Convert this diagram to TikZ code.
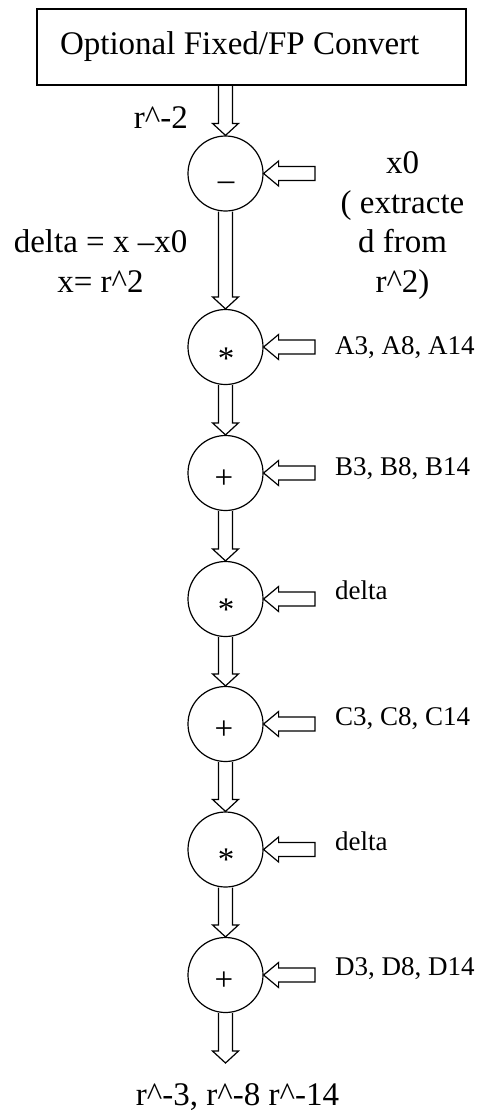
\documentclass[tikz,border=0pt]{standalone}
\usepackage{fontspec}
\setmainfont{Liberation Serif}
\usetikzlibrary{calc}
\begin{document}
\begin{tikzpicture}[x=1pt,y=-1pt,
  every node/.style={font=\fontsize{33}{39.5}\selectfont, inner sep=0pt},
  small/.style={font=\fontsize{27}{32}\selectfont},
  opnode/.style={draw, circle, minimum size=75pt, line width=1.2pt},
  convbox/.style={draw, line width=1.6pt, minimum width=429pt, minimum height=76pt,
    text width=383pt, align=flush left, inner xsep=23pt},
  varrow/.style={line width=1.2pt, line join=miter,
    to path={let \p1=(\tikztostart), \p2=(\tikztotarget) in
      (\x2-7pt,\y1) -- (\x2-7pt,\y2+12pt) -- (\x2-13pt,\y2+12pt) -- (\x2,\y2)
      -- (\x2+13pt,\y2+12pt) -- (\x2+7pt,\y2+12pt) -- (\x2+7pt,\y1)}},
  harrow/.style={line width=1.2pt, line join=miter,
    to path={let \p1=(\tikztostart), \p2=(\tikztotarget) in
      (\x1,\y2+7pt) -- (\x2+15pt,\y2+7pt) -- (\x2+15pt,\y2+12.5pt) -- (\x2,\y2)
      -- (\x2+15pt,\y2-12.5pt) -- (\x2+15pt,\y2-7pt) -- (\x1,\y2-7pt) -- cycle}}
]
\fill[white] (0,0) rectangle (482,1114);
\useasboundingbox (0,0) rectangle (482,1114);

% top box
\node[convbox] (box) at (251.5,47) {Optional Fixed/FP Convert};

% operator circles
\node[opnode] (c1) at (225.5,173.5) {};
\node[opnode] (c2) at (225.5,347) {};
\node[opnode] (c3) at (225.5,473) {};
\node[opnode] (c4) at (225.5,599) {};
\node[opnode] (c5) at (225.5,724) {};
\node[opnode] (c6) at (225.5,849.5) {};
\node[opnode] (c7) at (225.5,975) {};

% operator symbols
\node[anchor=base] (o1) at (226,190.5) {–};
\node[anchor=base] (o2) at (226,369) {*};
\node[anchor=base] (o3) at (224,488) {+};
\node[anchor=base] (o4) at (226,620) {*};
\node[anchor=base] (o5) at (224,739) {+};
\node[anchor=base] (o6) at (226,870.5) {*};
\node[anchor=base] (o7) at (224,990) {+};

% vertical flow arrows
\coordinate (out) at (225.5,1063);
\draw[varrow] (box.south) to (c1.north);
\draw[varrow] (c1.south) to (c2.north);
\draw[varrow] (c2.south) to (c3.north);
\draw[varrow] (c3.south) to (c4.north);
\draw[varrow] (c4.south) to (c5.north);
\draw[varrow] (c5.south) to (c6.north);
\draw[varrow] (c6.south) to (c7.north);
\draw[varrow] (c7.south) to (out);

% side inputs
\coordinate (i1) at (315,173.5);
\coordinate (i2) at (315,347);
\coordinate (i3) at (315,473);
\coordinate (i4) at (315,599);
\coordinate (i5) at (315,724);
\coordinate (i6) at (315,849.5);
\coordinate (i7) at (315,975);
\draw[harrow] (i1) to (c1.east);
\draw[harrow] (i2) to (c2.east);
\draw[harrow] (i3) to (c3.east);
\draw[harrow] (i4) to (c4.east);
\draw[harrow] (i5) to (c5.east);
\draw[harrow] (i6) to (c6.east);
\draw[harrow] (i7) to (c7.east);

% labels
\node[anchor=base east] (lr2) at (188,128) {r\textasciicircum-2};
\node[anchor=base, align=center] (lx0) at (402.5,292) {x0\\( extracte\\d from\\r\textasciicircum 2)};
\node[anchor=base, align=center] (ldelta) at (100.5,292) {delta = x –x0\\x= r\textasciicircum 2};
\node[small, anchor=base west] (lA) at (335,354) {A3, A8, A14};
\node[small, anchor=base west] (lB) at (335,475) {B3, B8, B14};
\node[small, anchor=base west] (lD1) at (335,599) {delta};
\node[small, anchor=base west] (lC) at (335,725) {C3, C8, C14};
\node[small, anchor=base west] (lD2) at (335,850) {delta};
\node[small, anchor=base west] (lDD) at (335,975) {D3, D8, D14};
\node[anchor=base] (lout) at (237.5,1105) {r\textasciicircum-3, r\textasciicircum-8 r\textasciicircum-14};
\end{tikzpicture}
\end{document}
